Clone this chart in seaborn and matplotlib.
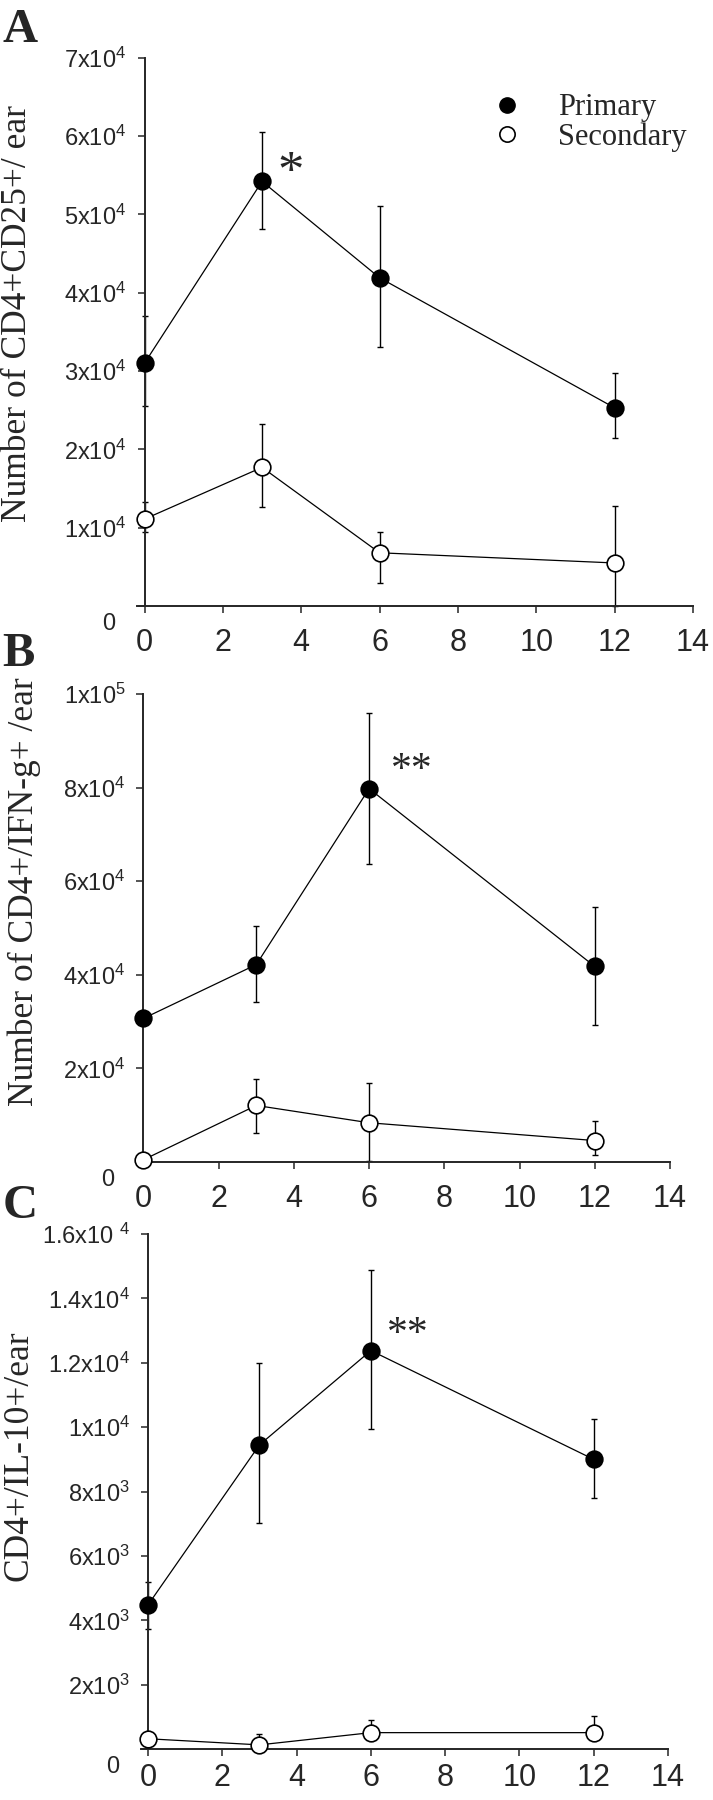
import numpy as np
import pandas as pd
import seaborn as sns
import matplotlib.pyplot as plt
from matplotlib.lines import Line2D
from matplotlib.transforms import ScaledTranslation

# Days after challenge
days = [0, 3, 6, 12]

# Panel A: CD4+CD25+ per ear (x10^4)
a_primary = [3.10, 5.42, 4.19, 2.53]
a_primary_lo = [2.55, 4.81, 3.31, 2.14]
a_primary_hi = [3.70, 6.05, 5.11, 2.97]
a_secondary = [1.11, 1.77, 0.68, 0.55]
a_secondary_lo = [0.95, 1.26, 0.30, 0.00]
a_secondary_hi = [1.33, 2.32, 0.94, 1.28]

# Panel B: CD4+/IFN-g+ per ear (x10^4)
b_primary = [3.07, 4.22, 7.98, 4.18]
b_primary_lo = [3.07, 3.43, 6.36, 2.93]
b_primary_hi = [3.07, 5.05, 9.60, 5.45]
b_secondary = [0.05, 1.21, 0.84, 0.46]
b_secondary_lo = [0.05, 0.63, 0.02, 0.16]
b_secondary_hi = [0.05, 1.77, 1.69, 0.87]

# Panel C: CD4+/IL-10+ per ear (x10^3)
c_primary = [4.48, 9.45, 12.38, 9.00]
c_primary_lo = [3.73, 7.02, 9.95, 7.79]
c_primary_hi = [5.20, 12.00, 14.88, 10.24]
c_secondary = [0.32, 0.13, 0.51, 0.51]
c_secondary_lo = [0.32, 0.13, 0.51, 0.51]
c_secondary_hi = [0.32, 0.48, 0.89, 1.02]

a_ticks = [0, 1e4, 2e4, 3e4, 4e4, 5e4, 6e4, 7e4]
a_labels = ['0'] + [r'%dx10$^{4}$' % i for i in range(1, 8)]
b_ticks = [0, 2e4, 4e4, 6e4, 8e4, 1e5]
b_labels = ['0', r'2x10$^{4}$', r'4x10$^{4}$', r'6x10$^{4}$', r'8x10$^{4}$', r'1x10$^{5}$']
c_ticks = [0, 2e3, 4e3, 6e3, 8e3, 1e4, 1.2e4, 1.4e4, 1.6e4]
c_labels = ['0', r'2x10$^{3}$', r'4x10$^{3}$', r'6x10$^{3}$', r'8x10$^{3}$',
            r'1x10$^{4}$', r'1.2x10$^{4}$', r'1.4x10$^{4}$', r'1.6x10 $^{4}$']
x_ticks = [0, 2, 4, 6, 8, 10, 12, 14]

sns.set_style('ticks')
plt.rcParams['font.family'] = ['Liberation Sans', 'DejaVu Sans']
plt.rcParams['mathtext.fontset'] = 'custom'
plt.rcParams['mathtext.rm'] = 'Liberation Sans'
plt.rcParams['mathtext.it'] = 'Liberation Sans'
plt.rcParams['mathtext.default'] = 'rm'

SERIF = 'Liberation Serif'


def draw_series(ax, y, lo, hi, scale, filled):
    y = np.array(y) * scale
    lo = np.array(lo) * scale
    hi = np.array(hi) * scale
    ax.errorbar(days, y, yerr=[y - lo, hi - y], fmt='none', ecolor='black',
                elinewidth=1, capsize=2.5, capthick=1, zorder=2, clip_on=False)
    sns.lineplot(x=days, y=y, ax=ax, color='black', lw=0.9, marker='o',
                 markersize=12, markeredgewidth=1.2, markeredgecolor='black',
                 markerfacecolor='black' if filled else 'white',
                 zorder=3, clip_on=False)


def style_axis(fig, ax, ymax, yticks, ylabels, ylabel, label_xy, xpad=11, lsize=25.5):
    ax.set_xlim(-0.2, 14)
    ax.set_ylim(0, ymax)
    ax.spines['left'].set_position(('data', 0))
    ax.spines['right'].set_visible(False)
    ax.spines['top'].set_visible(False)
    for s in ['left', 'bottom']:
        ax.spines[s].set_linewidth(1.4)
    ax.set_xticks(x_ticks)
    ax.set_xticklabels([str(t) for t in x_ticks])
    ax.set_yticks(yticks)
    ax.set_yticklabels(ylabels)
    ax.tick_params(direction='out', length=5, width=1.1)
    ax.tick_params(axis='x', labelsize=22, pad=xpad)
    ax.tick_params(axis='y', labelsize=17, pad=8)
    # the zero label sits below and left of the axis corner
    zero = ax.get_yticklabels()[0]
    zero.set_transform(zero.get_transform() +
                       ScaledTranslation(-8 / 72, -11 / 72, fig.dpi_scale_trans))
    ax.set_ylabel(ylabel, family=SERIF, fontsize=lsize, va='center')
    ax.yaxis.set_label_coords(*label_xy)


fig = plt.figure(figsize=(7.13, 18), dpi=100)

axA = fig.add_axes([0.1917, 0.6633, 0.7802, 0.3047])
draw_series(axA, a_primary, a_primary_lo, a_primary_hi, 1e4, True)
draw_series(axA, a_secondary, a_secondary_lo, a_secondary_hi, 1e4, False)
style_axis(fig, axA, 7e4, a_ticks, a_labels, 'Number of CD4+CD25+/ ear', (-0.215, 0.534))
axA.annotate('*', (3.74, 5.68e4), xytext=(0, -19), textcoords='offset points',
             family=SERIF, fontsize=38, ha='center', va='baseline')
handles = [Line2D([], [], ls='none', marker='o', markersize=11, color='black',
                  markerfacecolor='black'),
           Line2D([], [], ls='none', marker='o', markersize=11, color='black',
                  markerfacecolor='white', markeredgewidth=1.2)]
axA.legend(handles, ['Primary', 'Secondary'], loc='upper left',
           bbox_to_anchor=(0.639, 0.935), frameon=False, borderpad=0,
           borderaxespad=0, prop={'family': SERIF, 'size': 22},
           handletextpad=1.15, labelspacing=0.0, handlelength=1.0)

axB = fig.add_axes([0.1907, 0.3544, 0.7489, 0.26])
draw_series(axB, b_primary, b_primary_lo, b_primary_hi, 1e4, True)
draw_series(axB, b_secondary, b_secondary_lo, b_secondary_hi, 1e4, False)
style_axis(fig, axB, 1e5, b_ticks, b_labels, 'Number of CD4+/IFN-g+ /ear',
           (-0.21, 0.578), lsize=25.5)
axB.annotate('**', (7.14, 8.59e4), xytext=(0, -15), textcoords='offset points',
             family=SERIF, fontsize=30, ha='center', va='baseline')

axC = fig.add_axes([0.1972, 0.0283, 0.7397, 0.2861])
draw_series(axC, c_primary, c_primary_lo, c_primary_hi, 1e3, True)
draw_series(axC, c_secondary, c_secondary_lo, c_secondary_hi, 1e3, False)
style_axis(fig, axC, 1.6e4, c_ticks, c_labels, 'CD4+/IL-10+/ear', (-0.23, 0.57), xpad=5)
axC.annotate('**', (6.99, 13.2e3), xytext=(0, -15), textcoords='offset points',
             family=SERIF, fontsize=30, ha='center', va='baseline')

for letter, y in [('A', 0.9956), ('B', 0.649), ('C', 0.342)]:
    fig.text(0.003, y, letter, family=SERIF, fontsize=35, fontweight='bold',
             va='top', ha='left')

plt.savefig('out.png', dpi=100)
